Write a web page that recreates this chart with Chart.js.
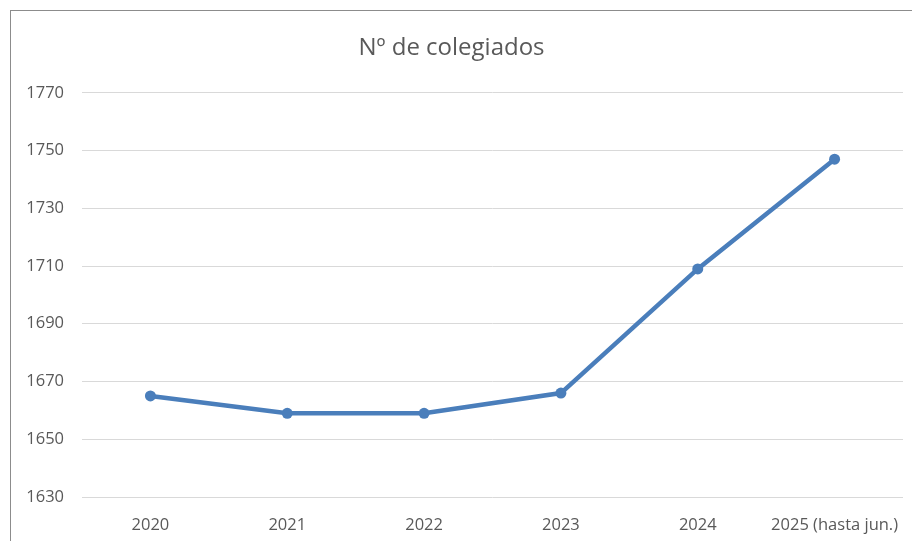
<!DOCTYPE html>
<html>
<head>
<meta charset="utf-8">
<script src="https://cdn.jsdelivr.net/npm/chart.js@4"></script>
<style>
  html, body { margin: 0; padding: 0; background: #fff; }
  #wrap { position: relative; width: 912px; height: 541px; overflow: hidden; }
  #frame { position: absolute; left: 10px; top: 10px; width: 920px; height: 560px;
           border: 1px solid #8c8c8c; box-sizing: border-box; }
  canvas { position: absolute; left: 0; top: 0; }
</style>
</head>
<body>
<div id="wrap">
  <div id="frame"></div>
  <canvas id="chart" width="912" height="541"></canvas>
</div>
<script>
// data
const years = ['2020', '2021', '2022', '2023', '2024', '2025 (hasta jun.)'];
const colegiados = [1665, 1659, 1659, 1666, 1709, 1747];
const yTicks = [1630, 1650, 1670, 1690, 1710, 1730, 1750, 1770];

const FONT = '"Open Sans", Lato, sans-serif';
const GREY = '#595959';

new Chart(document.getElementById('chart'), {
  type: 'line',
  data: {
    labels: years,
    datasets: [{
      data: colegiados,
      borderColor: '#4a7ebb',
      backgroundColor: '#4a7ebb',
      borderWidth: 4.5,
      pointRadius: 5.5,
      pointBackgroundColor: '#4a7ebb',
      pointBorderWidth: 0,
      tension: 0
    }]
  },
  options: {
    responsive: false,
    animation: false,
    layout: { padding: { top: 0, right: 9, bottom: 0, left: 0 } },
    plugins: {
      legend: { display: false },
      tooltip: { enabled: false },
      title: {
        display: true,
        text: 'Nº de colegiados',
        color: GREY,
        font: { family: FONT, size: 24, weight: 'normal' },
        padding: { top: 34, bottom: 30 }
      }
    },
    scales: {
      x: {
        offset: true,
        grid: { display: false },
        border: { display: false },
        ticks: { color: GREY, font: { family: FONT, size: 16.5 }, padding: 10, maxRotation: 0 },
        afterFit: s => { s.height = 44; }
      },
      y: {
        min: 1630,
        max: 1770,
        afterBuildTicks: s => { s.ticks = yTicks.map(v => ({ value: v })); },
        grid: { color: '#d9d9d9', lineWidth: 1, drawTicks: false },
        border: { display: false },
        ticks: {
          color: GREY,
          font: { family: FONT, size: 16.5 },
          padding: 18,
          callback: v => String(v)
        },
        afterFit: s => { s.width = 82; }
      }
    }
  }
});
</script>
</body>
</html>
